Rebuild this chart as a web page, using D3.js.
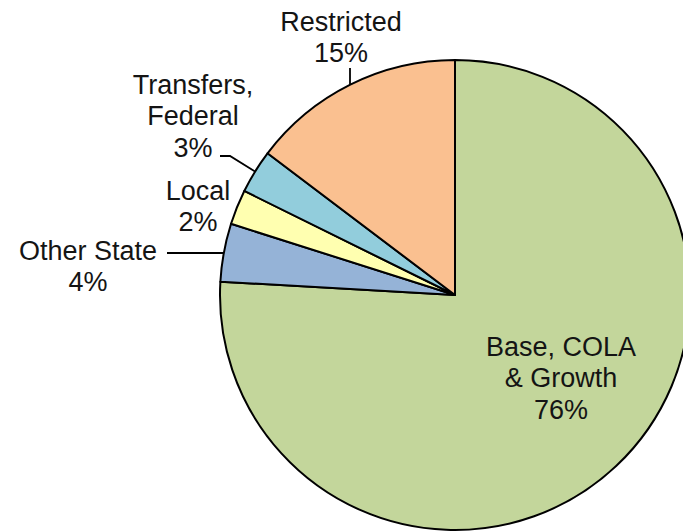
<!DOCTYPE html>
<html>
<head>
<meta charset="utf-8">
<script src="https://cdn.jsdelivr.net/npm/d3@7"></script>
<style>
  html, body { margin: 0; padding: 0; background: #ffffff; }
  svg { display: block; }
  text { font-family: "Liberation Sans", Arial, sans-serif; fill: #141414; }
</style>
</head>
<body>
<svg id="chart" width="683" height="532"></svg>
<script>
// ---- data ----
const categories = ["Base, COLA & Growth", "Other State", "Local", "Transfers, Federal", "Restricted"];
const values = [75.9, 4.0, 2.4, 3.0, 14.7];
const labelLines = [["Base, COLA", "& Growth", "76%"], ["Other State", "4%"], ["Local", "2%"], ["Transfers,", "Federal", "3%"], ["Restricted", "15%"]];
const colors = ["#c3d69b", "#95b3d7", "#ffffb0", "#92cddc", "#fac090"];

// ---- layout ----
const W = 683, H = 532;
const cx = 455, cy = 295, R = 235;
const fontSize = 27, lineH = 31.5;
// label block centre, relative to pie centre (px)
const labelPos = [[106, 83], [-367, -29], [-257, -89], [-262, -179], [-114, -258]];
// leader line start, relative to pie centre; null = none; kink = horizontal stub
const leaders = [null, { start: [-288, -42] }, null, { start: [-235, -139], kink: 10 }, { start: [-105, -227], vertical: true }];

const svg = d3.select("#chart");
const g = svg.append("g").attr("transform", `translate(${cx},${cy})`);

const pie = d3.pie().sort(null).value(d => d)(values);
const arc = d3.arc().innerRadius(0).outerRadius(R);

g.selectAll("path.slice").data(pie).join("path")
  .attr("class", "slice")
  .attr("d", arc)
  .attr("fill", (d, i) => colors[i])
  .attr("stroke", "#000")
  .attr("stroke-width", 2)
  .attr("stroke-linejoin", "round");

// leaders
pie.forEach((d, i) => {
  const L = leaders[i];
  if (!L) return;
  const mid = (d.startAngle + d.endAngle) / 2;
  let end;
  if (L.vertical) {
    const x = L.start[0];
    end = [x, -Math.sqrt(R * R - x * x)];
  } else if (L.kink === undefined) {
    const y = L.start[1];
    end = [-Math.sqrt(R * R - y * y), y];
  } else {
    end = [R * Math.sin(mid), -R * Math.cos(mid)];
  }
  const pts = [L.start];
  if (L.kink) pts.push([L.start[0] + L.kink, L.start[1]]);
  pts.push(end);
  g.append("path")
    .attr("d", d3.line()(pts))
    .attr("fill", "none")
    .attr("stroke", "#000")
    .attr("stroke-width", 1.8);
});

// labels
pie.forEach((d, i) => {
  const lines = labelLines[i];
  const [lx, ly] = labelPos[i];
  const t = g.append("text")
    .attr("text-anchor", "middle")
    .attr("font-size", fontSize);
  const top = ly - (lines.length - 1) * lineH / 2;
  lines.forEach((s, k) => {
    t.append("tspan")
      .attr("x", lx)
      .attr("y", top + k * lineH)
      .attr("dy", "0.35em")
      .text(s);
  });
});
</script>
</body>
</html>
